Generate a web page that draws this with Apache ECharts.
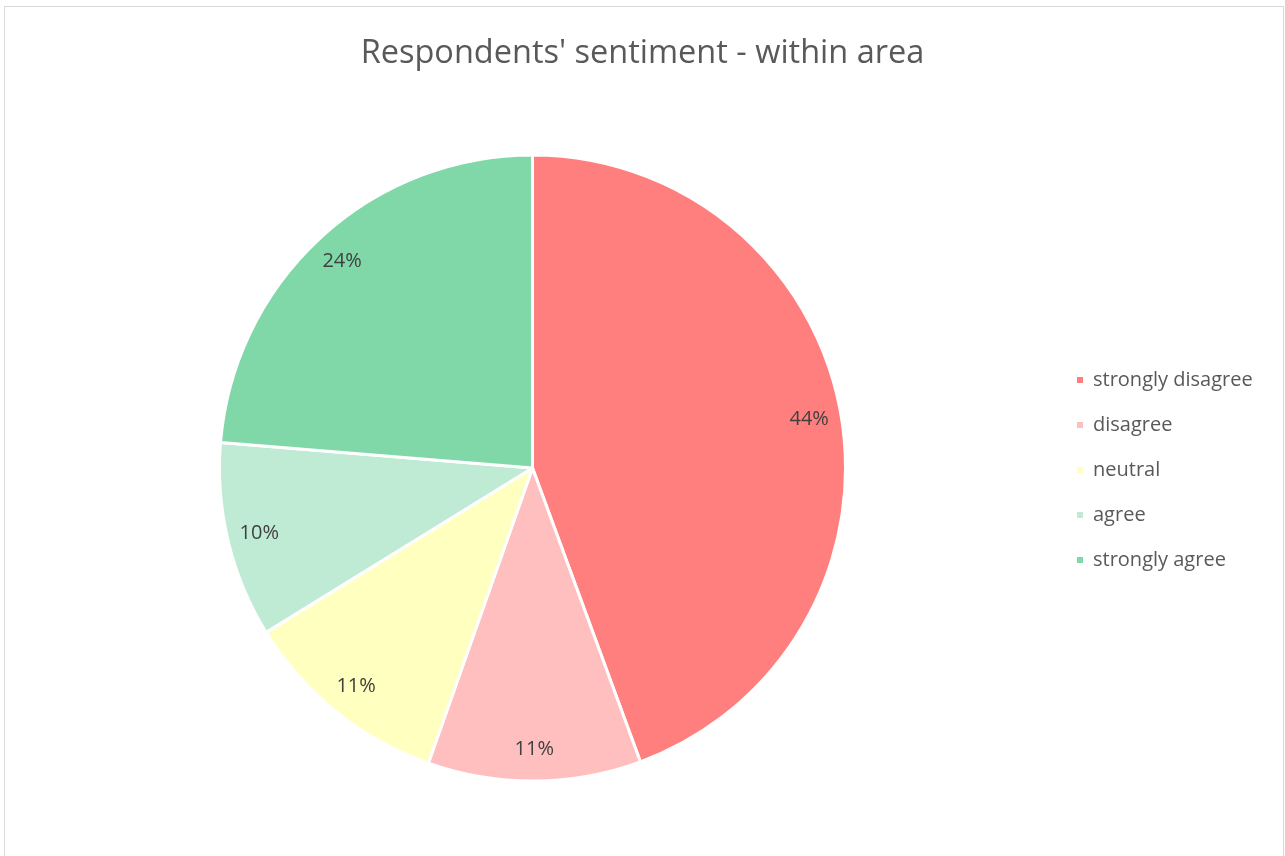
<!DOCTYPE html>
<html>
<head>
<meta charset="utf-8">
<script src="https://cdn.jsdelivr.net/npm/echarts@6/dist/echarts.min.js"></script>
<style>
  html, body { margin: 0; padding: 0; background: #ffffff; }
  #frame { position: absolute; left: 4px; top: 6px; width: 1280px; height: 860px; border: 1px solid #d9d9d9; box-sizing: border-box; }
  #chart { position: absolute; left: 0; top: 0; width: 1285px; height: 856px; }
</style>
</head>
<body>
<div id="frame"></div>
<div id="chart"></div>
<script>
const titleText = "Respondents' sentiment - within area";
const categories = ['strongly disagree', 'disagree', 'neutral', 'agree', 'strongly agree'];
const values = [44.4, 11.0, 10.8, 10.1, 23.7];
const colors = ['#FF7F7F', '#FFBFBF', '#FFFFBF', '#BFEBD5', '#80D8A8'];

const chart = echarts.init(document.getElementById('chart'), null, { renderer: 'canvas' });
const fontFamily = '"Open Sans", "Noto Sans", sans-serif';

const mainData = categories.map((c, i) => ({ name: c, value: values[i], itemStyle: { color: colors[i] } }));
const labelData = categories.map((c, i) => ({ name: c, value: values[i] }));

chart.setOption({
  animation: false,
  title: {
    text: titleText,
    left: 'center',
    top: 32,
    textStyle: { fontFamily: fontFamily, fontSize: 32.5, fontWeight: 'normal', color: '#595959' }
  },
  legend: {
    orient: 'vertical',
    left: 1070,
    top: 364,
    icon: 'rect',
    itemWidth: 8,
    itemHeight: 8,
    itemGap: 23,
    data: categories,
    textStyle: { fontFamily: fontFamily, fontSize: 20, color: '#595959', lineHeight: 22, padding: [0, 0, 0, 4] }
  },
  series: [
    {
      name: 'sentiment',
      type: 'pie',
      center: [532.5, 468],
      radius: [0, 313],
      startAngle: 90,
      clockwise: true,
      silent: true,
      label: { show: false },
      labelLine: { show: false },
      itemStyle: { borderColor: '#ffffff', borderWidth: 3 },
      data: mainData
    },
    {
      name: 'labels',
      type: 'pie',
      center: [532.5, 468],
      radius: [244, 312],
      startAngle: 90,
      clockwise: true,
      silent: true,
      itemStyle: { color: 'rgba(0,0,0,0)', borderWidth: 0 },
      label: {
        show: true,
        position: 'inside',
        fontFamily: fontFamily,
        fontSize: 20,
        color: '#404040',
        formatter: p => Math.round(p.percent) + '%'
      },
      labelLine: { show: false },
      data: labelData
    }
  ]
});
</script>
</body>
</html>
